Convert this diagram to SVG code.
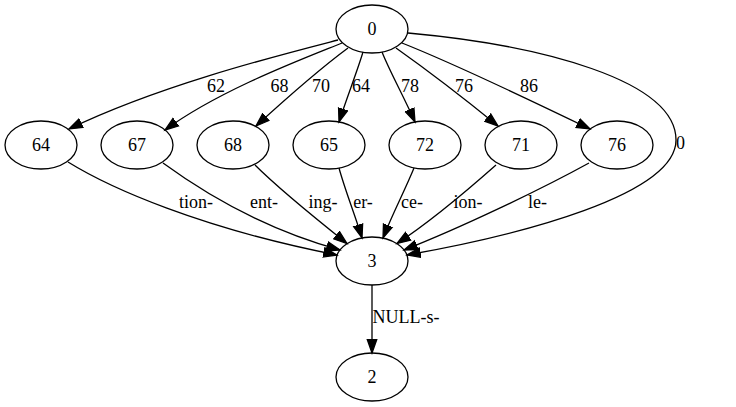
<svg xmlns="http://www.w3.org/2000/svg" width="736" height="407" viewBox="0 0 736 407">
  <style>
    .node ellipse { fill: none; stroke: #000; stroke-width: 1.3; }
    text { font-family: "Liberation Serif", "Times New Roman", serif; font-size: 18px; fill: #000; }
    .node text { text-anchor: middle; }
    .lbl { text-anchor: middle; }
    .edge { fill: none; stroke: #000; stroke-width: 1.3; marker-end: url(#arrow); }
  </style>
  <defs>
    <marker id="arrow" markerUnits="userSpaceOnUse" markerWidth="16" markerHeight="12" viewBox="0 -6 15 12" refX="13.3" refY="0" orient="auto">
      <path d="M0,-4.7 L13.3,0 L0,4.7 Z" fill="#000" stroke="#000" stroke-width="1.3"/>
    </marker>
  </defs>
  <rect width="736" height="407" fill="#fff"/>

  <!-- connectors -->
  <g id="edges">
    <path class="edge" d="M338,40 C280,55 160,85 69,129"/>
    <path class="edge" d="M342,43 C300,60 220,90 165,130"/>
    <path class="edge" d="M348,48 C325,65 290,95 256,126"/>
    <path class="edge" d="M363,52 C357,72 347,97 339,122"/>
    <path class="edge" d="M382,52 C390,72 404,97 415,122"/>
    <path class="edge" d="M396,48 C420,65 460,95 498,126"/>
    <path class="edge" d="M402,43 C450,62 530,100 590,129"/>
    <path class="edge" d="M408,33 C540,45 676,80 676,140 C676,195 520,235 407,255"/>
    <path class="edge" d="M68,162 C110,188 200,228 337,255"/>
    <path class="edge" d="M163,163 C200,190 260,228 340,250"/>
    <path class="edge" d="M255,165 C280,190 320,222 347,243.5"/>
    <path class="edge" d="M339,168 C345,190 355,215 362,238"/>
    <path class="edge" d="M414,168 C405,190 392,215 383,238"/>
    <path class="edge" d="M496,165 C470,188 430,222 397,243.5"/>
    <path class="edge" d="M589,163 C540,190 460,228 404,250"/>
    <path class="edge" d="M372,285 L372,353"/>

    <text class="lbl" x="216" y="92">62</text>
    <text class="lbl" x="279.5" y="92">68</text>
    <text class="lbl" x="321" y="92">70</text>
    <text class="lbl" x="361" y="92">64</text>
    <text class="lbl" x="410" y="92">78</text>
    <text class="lbl" x="464" y="92">76</text>
    <text class="lbl" x="529" y="92">86</text>
    <text class="lbl" x="680.5" y="149">0</text>
    <text class="lbl" x="196" y="208">tion-</text>
    <text class="lbl" x="264" y="208">ent-</text>
    <text class="lbl" x="323" y="208">ing-</text>
    <text class="lbl" x="363" y="208">er-</text>
    <text class="lbl" x="412" y="208">ce-</text>
    <text class="lbl" x="468" y="208">ion-</text>
    <text class="lbl" x="537.5" y="208">le-</text>
    <text x="372.5" y="323">NULL-s-</text>
  </g>

  <!-- nodes -->
  <g id="n0" class="node"><ellipse cx="372" cy="29" rx="36" ry="24"/><text x="372" y="35">0</text></g>
  <g id="n64" class="node"><ellipse cx="41" cy="145" rx="36" ry="24"/><text x="41" y="151">64</text></g>
  <g id="n67" class="node"><ellipse cx="137" cy="145" rx="36" ry="24"/><text x="137" y="151">67</text></g>
  <g id="n68" class="node"><ellipse cx="233" cy="145" rx="36" ry="24"/><text x="233" y="151">68</text></g>
  <g id="n65" class="node"><ellipse cx="329" cy="145" rx="36" ry="24"/><text x="329" y="151">65</text></g>
  <g id="n72" class="node"><ellipse cx="425" cy="145" rx="36" ry="24"/><text x="425" y="151">72</text></g>
  <g id="n71" class="node"><ellipse cx="521" cy="145" rx="36" ry="24"/><text x="521" y="151">71</text></g>
  <g id="n76" class="node"><ellipse cx="617" cy="145" rx="36" ry="24"/><text x="617" y="151">76</text></g>
  <g id="n3" class="node"><ellipse cx="372" cy="261" rx="36" ry="24"/><text x="372" y="267">3</text></g>
  <g id="n2" class="node"><ellipse cx="372" cy="377" rx="36" ry="24"/><text x="372" y="383">2</text></g>
</svg>
